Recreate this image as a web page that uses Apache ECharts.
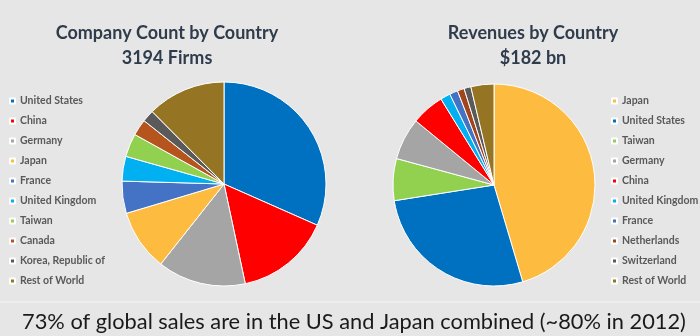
<!DOCTYPE html>
<html>
<head>
<meta charset="utf-8">
<script src="https://cdn.jsdelivr.net/npm/echarts@6/dist/echarts.min.js"></script>
<style>
html,body{margin:0;padding:0;background:#e7e6e6;}
#c{width:700px;height:336px;}
</style>
</head>
<body>
<div id="c"></div>
<script>
// Company count by country (3194 firms)
const countCategories = ["United States","China","Germany","Japan","France","United Kingdom","Taiwan","Canada","Korea, Republic of","Rest of World"];
const countValues = [1010, 480, 447, 310, 163, 125, 118, 83, 61, 397];
const countColors = ["#0070c0","#ff0000","#a5a5a5","#fdbb40","#4472c4","#00b0f0","#92d050","#b5541c","#5a5a5a","#957424"];

// Revenues by country ($182 bn)
const revenueCategories = ["Japan","United States","Taiwan","Germany","China","United Kingdom","France","Netherlands","Switzerland","Rest of World"];
const revenueValues = [82.6, 49.3, 12.2, 12.2, 9.6, 2.9, 2.4, 2.0, 2.0, 6.7];
const revenueColors = ["#fdbb40","#0070c0","#92d050","#a5a5a5","#ff0000","#00b0f0","#4472c4","#a0461c","#5a5a5a","#957424"];

const titles = ["Company Count by Country\n3194 Firms", "Revenues by Country\n$182 bn"];
const footnote = "73% of global sales are in the US and Japan combined (~80% in 2012)";

const chart = echarts.init(document.getElementById('c'), null, {renderer:'canvas'});

function pieData(cats, vals, cols){
  return cats.map((n,i)=>({name:n, value:vals[i], itemStyle:{color:cols[i]}}));
}
const legendText = {color:'#595959', fontSize:10.5, fontWeight:'bold', fontFamily:'Lato, "Open Sans", sans-serif', lineHeight:12};
const titleStyle = {color:'#2f3c4c', fontSize:18, fontWeight:'bold', fontFamily:'Lato, "Open Sans", sans-serif', lineHeight:25};

chart.setOption({
  backgroundColor:'#e7e6e6',
  animation:false,
  title:[
    {text:titles[0], left:162, top:16, textAlign:'center', textStyle:titleStyle},
    {text:titles[1], left:528, top:16, textAlign:'center', textStyle:titleStyle},
    {text:footnote, left:349, top:306, textAlign:'center',
     textStyle:{color:'#1a1a1a', fontSize:21.8, fontWeight:'normal', fontFamily:'Lato, "DejaVu Sans", sans-serif'}}
  ],
  legend:[
    {orient:'vertical', left:4, top:90, itemWidth:5, itemHeight:5, itemGap:8,
     icon:'rect', data:countCategories, textStyle:legendText, selectedMode:false},
    {orient:'vertical', left:606, top:90, itemWidth:5, itemHeight:5, itemGap:8,
     icon:'rect', data:revenueCategories, textStyle:legendText, selectedMode:false}
  ],
  graphic:[
    {type:'line', shape:{x1:0,y1:302,x2:700,y2:302}, style:{stroke:'#f6f6f6', lineWidth:1}}
  ],
  series:[
    {type:'pie', center:[224,184], radius:102, startAngle:90, clockwise:true,
     label:{show:false}, labelLine:{show:false}, emphasis:{disabled:true},
     itemStyle:{borderColor:'#ffffff', borderWidth:1},
     data:pieData(countCategories,countValues,countColors)},
    {type:'pie', center:[494,185], radius:101, startAngle:90, clockwise:true,
     label:{show:false}, labelLine:{show:false}, emphasis:{disabled:true},
     itemStyle:{borderColor:'#ffffff', borderWidth:1},
     data:pieData(revenueCategories,revenueValues,revenueColors)}
  ]
});
</script>
</body>
</html>
